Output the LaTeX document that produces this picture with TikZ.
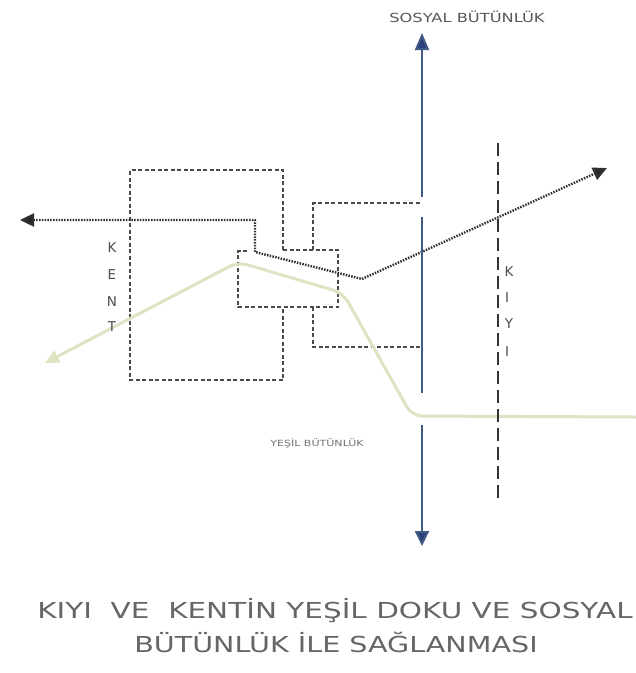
\documentclass[tikz,border=0pt]{standalone}
\usepackage{fontspec}
\setmainfont{DejaVu Sans}
\usetikzlibrary{arrows.meta}
\definecolor{axisblue}{HTML}{3F5B85}
\definecolor{headblue}{HTML}{2C3E7C}
\definecolor{boxgray}{HTML}{4A4A4A}
\definecolor{dotgray}{HTML}{303030}
\definecolor{paleg}{HTML}{DCE4C4}
\definecolor{txtgray}{HTML}{666666}
\tikzset{
  boxline/.style={draw=boxgray, line width=1.5pt, dash pattern=on 4pt off 2.5pt},
  dotline/.style={draw=dotgray, line width=2.4pt, dash pattern=on 1.5pt off 1.3pt},
  axisline/.style={draw=axisblue, line width=2pt},
  kiyiline/.style={draw=black!80, line width=2.2pt, dash pattern=on 13pt off 6pt},
  greenline/.style={draw=paleg, line width=3pt, rounded corners=10pt},
  letter/.style={text=black!70, font=\fontsize{13.5}{14}\selectfont, inner sep=0pt},
  caption/.style={text=txtgray, inner sep=0pt, anchor=center},
}
\newcommand{\wide}[1]{\scalebox{1.3}[1]{#1}}
\begin{document}
\begin{tikzpicture}[x=1pt,y=-1pt]
\useasboundingbox[fill=white] (0,0) rectangle (636,673);

% ---- dashed boxes ----
\coordinate (b1) at (283,250); \coordinate (b2) at (283,170); \coordinate (b3) at (130,170);
\coordinate (b4) at (130,380); \coordinate (b5) at (283,380); \coordinate (b6) at (283,307);
\draw[boxline] (b1) -- (b2) -- (b3) -- (b4) -- (b5) -- (b6);
\coordinate (m0) at (247,251); \coordinate (m1) at (238,251); \coordinate (m2) at (238,307);
\coordinate (m3) at (338,307); \coordinate (m4) at (338,250); \coordinate (m5) at (283,250);
\draw[boxline] (m0) -- (m1) -- (m2) -- (m3) -- (m4) -- (m5);
\coordinate (r1) at (313,250); \coordinate (r2) at (313,203); \coordinate (r3) at (421,203);
\coordinate (r4) at (313,307); \coordinate (r5) at (313,347); \coordinate (r6) at (421,347);
\draw[boxline] (r1) -- (r2) -- (r3);
\draw[boxline] (r4) -- (r5) -- (r6);

% ---- green line ----
\coordinate (g0) at (45,363); \coordinate (g1) at (238,262); \coordinate (g2) at (343,293);
\coordinate (g3) at (412,416); \coordinate (g4) at (636,417);
\draw[greenline, {Triangle[length=14pt,width=13pt,fill=paleg]}-] (g0) -- (g1) -- (g2) -- (g3) -- (g4);

% ---- KIYI dashed line ----
\coordinate (k1) at (498,143); \coordinate (k2) at (498,498);
\draw[kiyiline] (k1) -- (k2);

% ---- dotted path ----
\coordinate (d0) at (20,220); \coordinate (d1) at (255,220); \coordinate (d2) at (255,252);
\coordinate (d3) at (362,279); \coordinate (d4) at (607,168);
\draw[dotline, {Triangle[length=14pt,width=13pt,fill=black!85]}-{Triangle[length=14pt,width=13pt,fill=black!85]}]
  (d0) -- (d1) -- (d2) -- (d3) -- (d4);

% ---- blue axis ----
\coordinate (a0) at (422,33); \coordinate (a1) at (422,197); \coordinate (a2) at (422,217);
\coordinate (a3) at (422,393); \coordinate (a4) at (422,425); \coordinate (a5) at (422,546);
\draw[axisline, -{Triangle[length=17pt,width=14pt,fill=headblue]}] (a1) -- (a0);
\draw[axisline] (a2) -- (a3);
\draw[axisline, -{Triangle[length=15pt,width=14pt,fill=headblue]}] (a4) -- (a5);

% ---- letters ----
\node[letter] (kK) at (112,248) {K};
\node[letter] (kE) at (112,275) {E};
\node[letter] (kN) at (112,302) {N};
\node[letter] (kT) at (112,327) {T};
\node[letter] (yK) at (509,272) {K};
\node[letter] (yI) at (507,298) {I};
\node[letter] (yY) at (509,324) {Y};
\node[letter] (yI2) at (507,352) {I};

% ---- labels ----
\node[caption, text=black!65, font=\fontsize{12.5}{14}\selectfont] (sosyal) at (467,17) {\wide{SOSYAL BÜTÜNLÜK}};
\node[caption, text=black!55, font=\fontsize{8.5}{10}\selectfont] (yesil) at (317,443) {\wide{YEŞİL BÜTÜNLÜK}};
\node[caption, font=\fontsize{22}{26}\selectfont] (cap1) at (335,611) {\scalebox{1.34}[1]{KIYI\ \ VE\ \ KENTİN YEŞİL DOKU VE SOSYAL}};
\node[caption, font=\fontsize{22}{26}\selectfont] (cap2) at (336,642) {\wide{BÜTÜNLÜK İLE SAĞLANMASI}};
\end{tikzpicture}
\end{document}
